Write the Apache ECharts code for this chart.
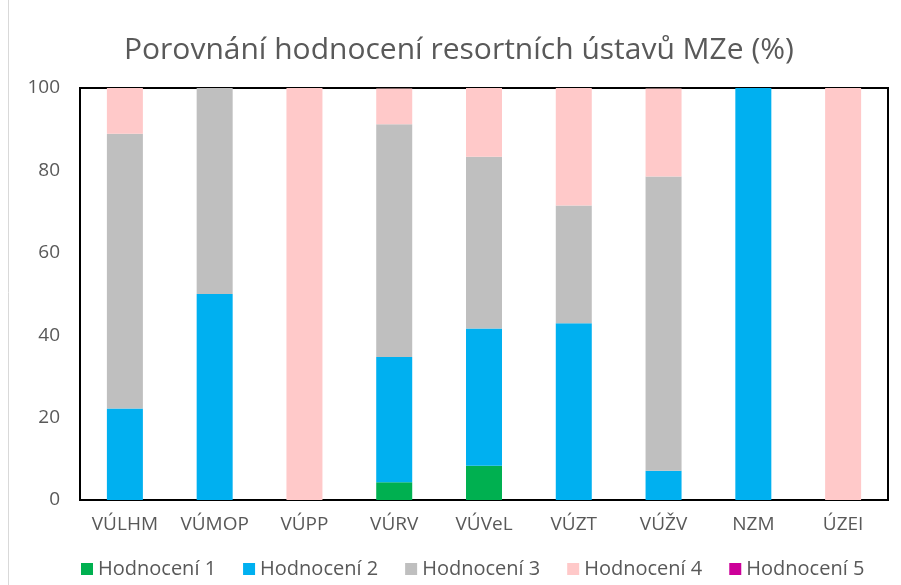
<!DOCTYPE html>
<html>
<head>
<meta charset="utf-8">
<script src="https://cdn.jsdelivr.net/npm/echarts@6/dist/echarts.min.js"></script>
<style>
html,body{margin:0;padding:0;background:#fff;}
#main{width:901px;height:585px;}
</style>
</head>
<body>
<div id="main"></div>
<script>
var categories = ['VÚLHM', 'VÚMOP', 'VÚPP', 'VÚRV', 'VÚVeL', 'VÚZT', 'VÚŽV', 'NZM', 'ÚZEI'];
var hodnoceni1 = [0, 0, 0, 4.3, 8.3, 0, 0, 0, 0];
var hodnoceni2 = [22.2, 50, 0, 30.4, 33.3, 42.9, 7.1, 100, 0];
var hodnoceni3 = [66.7, 50, 0, 56.5, 41.7, 28.6, 71.4, 0, 0];
var hodnoceni4 = [11.1, 0, 100, 8.7, 16.7, 28.6, 21.4, 0, 100];
var hodnoceni5 = [0, 0, 0, 0, 0, 0, 0, 0, 0];
var yTicks = [0, 20, 40, 60, 80, 100];

var names = ['Hodnocení 1', 'Hodnocení 2', 'Hodnocení 3', 'Hodnocení 4', 'Hodnocení 5'];
var colors = ['#00b050', '#00b0f0', '#bfbfbf', '#ffc9c9', '#cc0099'];
var values = [hodnoceni1, hodnoceni2, hodnoceni3, hodnoceni4, hodnoceni5];

var series = [];
for (var i = 0; i < names.length; i++) {
    series.push({
        name: names[i],
        type: 'bar',
        stack: 'all',
        barWidth: 36,
        itemStyle: { color: colors[i] },
        data: values[i]
    });
}

var chart = echarts.init(document.getElementById('main'));
var font = 'Open Sans, Liberation Sans, sans-serif';
chart.setOption({
    animation: false,
    color: colors,
    title: {
        text: 'Porovnání hodnocení resortních ústavů MZe (%)',
        left: 119,
        top: 30,
        textStyle: { color: '#595959', fontSize: 30, fontWeight: 'normal', fontFamily: font }
    },
    legend: {
        bottom: 1,
        left: 76,
        itemWidth: 12,
        itemHeight: 12,
        itemGap: 27,
        icon: 'rect',
        textStyle: { color: '#595959', fontSize: 20, fontFamily: font },
        data: names
    },
    grid: { left: 80, right: 13, top: 88, bottom: 85, show: true, borderColor: '#000', borderWidth: 2 },
    xAxis: {
        type: 'category',
        data: categories,
        axisLine: { show: false },
        axisTick: { show: false },
        axisLabel: { color: '#595959', fontSize: 19, fontFamily: font, margin: 15 }
    },
    yAxis: {
        type: 'value',
        min: yTicks[0],
        max: yTicks[yTicks.length - 1],
        interval: 20,
        splitLine: { show: false },
        axisLine: { show: false },
        axisTick: { show: false },
        axisLabel: { color: '#595959', fontSize: 19, fontFamily: font, margin: 20 }
    },
    graphic: [{
        type: 'line',
        shape: { x1: 8.5, y1: 0, x2: 8.5, y2: 585 },
        style: { stroke: '#d9d9d9', lineWidth: 1 }
    }],
    series: series
});
</script>
</body>
</html>
